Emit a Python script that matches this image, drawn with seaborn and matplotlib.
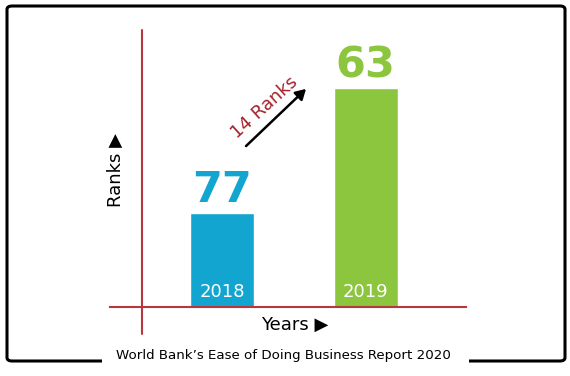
import matplotlib
matplotlib.use("Agg")
import matplotlib.pyplot as plt
import seaborn as sns
import pandas as pd
from matplotlib.patches import FancyBboxPatch, Rectangle

years = ["2018", "2019"]
ranks = [77, 63]
bar_heights = [34, 79]          # visual bar heights (axis units 0-100)
bar_colors = ["#12a5cf", "#8cc63f"]
arrow_label = "14 Ranks"
x_label = "Years \u25B6"
y_label = "Ranks \u25B6"
caption = "World Bank\u2019s Ease of Doing Business Report 2020"

sns.set_style("white")
plt.rcParams["font.family"] = ["DejaVu Sans"]

W, H = 570, 376
fig = plt.figure(figsize=(W / 100, H / 100), dpi=100)
fig.patch.set_facecolor("white")

def fx(px):
    return px / W

def fy(py):
    return 1 - py / H

ax = fig.add_axes([fx(110), fy(307), 356 / W, 277 / H])
df = pd.DataFrame({"year": years, "height": bar_heights})
sns.barplot(data=df, x="year", y="height", hue="year", palette=bar_colors,
            width=0.446, legend=False, ax=ax, saturation=1)
ax.set_xlim(-0.780, 1.700)
ax.set_ylim(0, 100)
ax.set_xticks([])
ax.set_yticks([])
ax.set_xlabel("")
ax.set_ylabel("")
for s in ["top", "right", "left"]:
    ax.spines[s].set_visible(False)
red = "#b8373d"
ax.spines["bottom"].set_color(red)
ax.spines["bottom"].set_linewidth(1.5)
ax.set_facecolor("none")

# vertical axis line extending below the baseline
ax.plot([-0.557, -0.557], [-0.0975, 1.0], color=red, lw=1.5,
        transform=ax.get_xaxis_transform(), clip_on=False)

for i, (r, h, c, yr) in enumerate(zip(ranks, bar_heights, bar_colors, years)):
    ax.annotate(str(r), (i, h), xytext=(0, 1), textcoords="offset points",
                ha="center", va="bottom", fontsize=31, fontweight="bold",
                color=c)
    ax.annotate(yr, (i, 0), xytext=(0, 4), textcoords="offset points",
                ha="center", va="bottom", fontsize=13, color="white")

# arrow
fig.add_artist(matplotlib.patches.FancyArrowPatch(
    (fx(244), fy(148)), (fx(308), fy(87)), transform=fig.transFigure,
    arrowstyle="-|>,head_length=6,head_width=3.5", color="black", lw=1.8))
fig.text(fx(264), fy(108), arrow_label, rotation=42, ha="center", va="center",
         fontsize=13, color="#a3222b", rotation_mode="anchor")

fig.text(fx(295), fy(325), x_label, ha="center", va="center", fontsize=13,
         color="black")
fig.text(fx(116), fy(170), y_label, ha="center", va="center", fontsize=13,
         rotation=90, color="black")

# rounded border with gap for caption
border = FancyBboxPatch((fx(7), fy(361)), fx(565) - fx(7), fy(6) - fy(361),
                        boxstyle="round,pad=0,rounding_size=0.009",
                        transform=fig.transFigure, fill=False,
                        edgecolor="black", lw=2.2)
fig.add_artist(border)
fig.add_artist(Rectangle((fx(102), fy(366)), fx(469) - fx(102), 10 / H,
                         transform=fig.transFigure, facecolor="white",
                         edgecolor="none", zorder=5))
fig.text(fx(283), fy(356), caption, ha="center", va="center", fontsize=9.6,
         color="black", zorder=6)

fig.savefig("out.png", dpi=100)
